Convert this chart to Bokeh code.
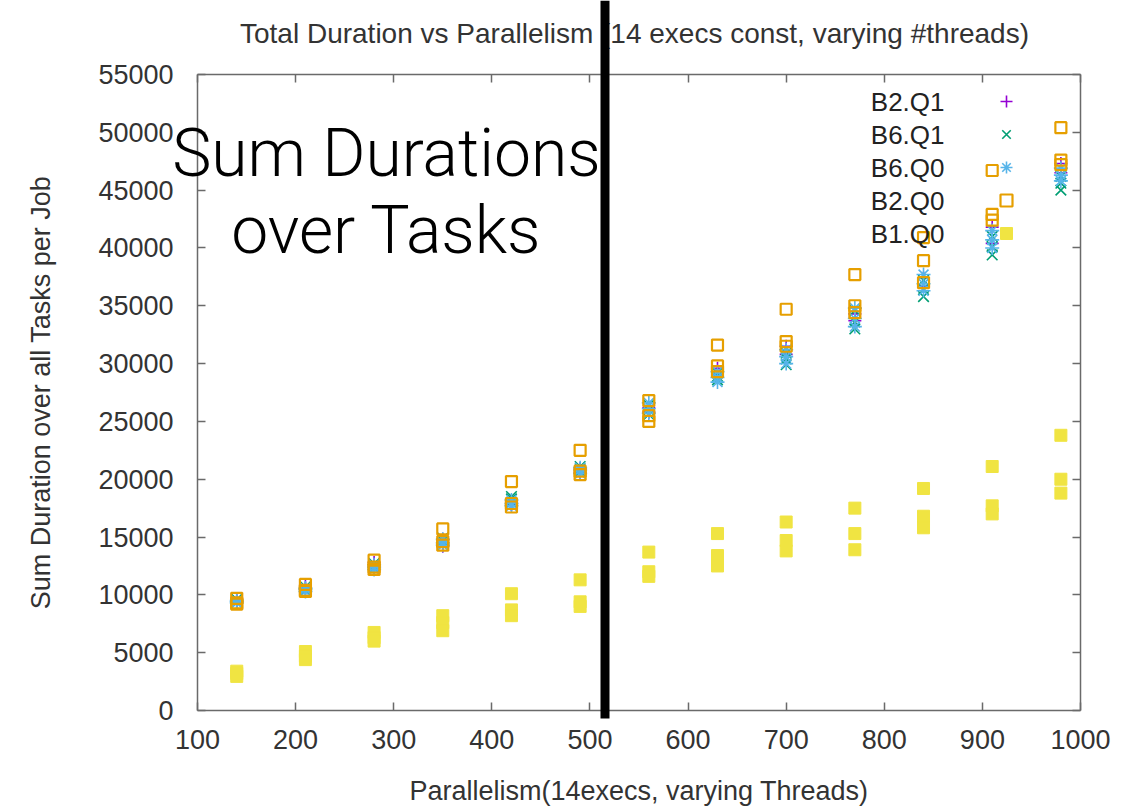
from bokeh.plotting import figure
from bokeh.models import (LinearAxis, FixedTicker, Range1d, Label, BoxAnnotation,
                          Legend, LegendItem, CustomLabelingPolicy)
from bokeh.embed import file_html
from bokeh.resources import INLINE

# ---------------- data ----------------
parallelism = [140, 210, 280, 350, 420, 490, 560, 630, 700, 770, 840, 910, 980]

b2_q1 = [[9600, 9400], [10800, 10500], [12800, 12400], [14800, 14200],
         [18100, 17800], [20900, 20600], [26200, 25800], [29600, 29100],
         [31500, 30800], [34300, 33700], [37400, 36700], [41800, 40400],
         [47300, 46500]]
b6_q1 = [[9600, 9500, 9400], [10700, 10500, 10400], [12700, 12500, 12300],
         [14900, 14700, 14500], [18500, 18300, 18000], [21100, 20900, 20700],
         [26400, 26000, 25600], [29200, 28900, 28600], [30900, 30400, 29900],
         [34600, 33600, 33000], [37200, 36400, 35800], [41000, 40100, 39400],
         [46200, 45600, 45000]]
b6_q0 = [[9500, 9400, 9300], [10600, 10500, 10300], [12600, 12400, 12200],
         [14800, 14500, 14300], [18200, 17900, 17700], [21000, 20800, 20500],
         [26600, 26100, 25700], [29300, 28800, 28400], [31200, 30600, 30000],
         [34800, 33900, 33200], [37700, 36900, 36300], [41500, 40700, 40000],
         [46900, 46300, 45800]]
b2_q0 = [[9700, 9300, 9200], [10900, 10400, 10300], [13000, 12400, 12200],
         [15700, 14600, 14300], [19800, 17900, 17600], [22500, 20700, 20400],
         [26800, 25500, 25000], [31600, 29800, 29300], [34700, 31900, 31500],
         [37700, 35000, 34400], [40900, 38900, 37000], [46700, 42900, 42400],
         [50400, 47600, 47200]]
b1_q0 = [[3400, 3200, 2950], [5100, 4700, 4400], [6750, 6300, 6000],
         [8200, 7600, 6900], [10100, 8700, 8200], [11300, 9400, 9000],
         [13700, 12000, 11600], [15300, 13400, 12500], [16300, 14700, 13800],
         [17500, 15300, 13900], [19200, 16800, 15800], [21100, 17700, 17000],
         [23800, 20000, 18800]]

series_names = ["B2.Q1", "B6.Q1", "B6.Q0", "B2.Q0", "B1.Q0"]
series_values = [b2_q1, b6_q1, b6_q0, b2_q0, b1_q0]

x_ticks = [100, 200, 300, 400, 500, 600, 700, 800, 900, 1000]
y_ticks = [0, 5000, 10000, 15000, 20000, 25000, 30000, 35000, 40000, 45000, 50000, 55000]
x_min, x_max = 100, 1000
y_min, y_max = 0, 55000

title_text = "Total Duration vs Parallelism (14 execs const, varying #threads)"
x_label = "Parallelism(14execs, varying Threads)"
y_label = "Sum Duration over all Tasks per Job"
overlay_lines = ["Sum Durations", "over Tasks"]

# ---------------- layout / styles ----------------
W, H = 1129, 808
# pixel box of the plotting area inside the canvas
LEFT, RIGHT, TOP, BOTTOM = 197, 1080, 74, 710
FONT = "Liberation Sans"
TXT = "#333333"
AX = "#6a6a6a"

# the frame covers the whole canvas; ranges are extended so that the data box
# lands on the pixel box above (lets the slide overlays extend past the axes)
sx = (RIGHT - LEFT) / (x_max - x_min)
sy = (BOTTOM - TOP) / (y_max - y_min)
x_range = Range1d(x_min - LEFT / sx, x_max + (W - RIGHT) / sx)
y_range = Range1d(y_min - (H - BOTTOM) / sy, y_max + TOP / sy)

styles = [
    dict(marker="cross", line_color="#9400D3", fill_color=None, size=13, line_width=1.6),
    dict(marker="x", line_color="#009E73", fill_color=None, size=15, line_width=1.6),
    dict(marker="asterisk", line_color="#56B4E9", fill_color=None, size=14, line_width=1.6),
    dict(marker="square", line_color="#E69F00", fill_color=None, size=11, line_width=2.2),
    dict(marker="square", line_color="#F0E442", fill_color="#F0E442", size=12, line_width=1),
]

p = figure(width=W, height=H, output_backend="svg", toolbar_location=None,
           x_range=x_range, y_range=y_range,
           x_axis_location=None, y_axis_location=None,
           min_border=0)
p.outline_line_color = None
p.grid.visible = False
p.background_fill_color = "white"
p.border_fill_color = "white"

no_labels = CustomLabelingPolicy(code="return new Set()")

bottom_axis = LinearAxis(fixed_location=y_min, bounds=(x_min, x_max), axis_label=x_label)
top_axis = LinearAxis(fixed_location=y_max, bounds=(x_min, x_max), major_label_policy=no_labels)
left_axis = LinearAxis(fixed_location=x_min, bounds=(y_min, y_max), axis_label=y_label)
right_axis = LinearAxis(fixed_location=x_max, bounds=(y_min, y_max), major_label_policy=no_labels)
p.add_layout(bottom_axis, "below")
p.add_layout(top_axis, "above")
p.add_layout(left_axis, "left")
p.add_layout(right_axis, "right")

for ax, ticks in [(bottom_axis, x_ticks), (top_axis, x_ticks),
                  (left_axis, y_ticks), (right_axis, y_ticks)]:
    ax.ticker = FixedTicker(ticks=ticks)
    ax.axis_line_color = AX
    ax.axis_line_width = 1.5
    ax.major_tick_line_color = AX
    ax.major_tick_line_width = 1.5
    ax.major_tick_in = 8
    ax.major_tick_out = 0
    ax.minor_tick_line_color = None
    ax.major_label_text_font = FONT
    ax.major_label_text_color = TXT
    ax.major_label_text_font_size = "27px"
    ax.axis_label_text_font = FONT
    ax.axis_label_text_color = TXT
    ax.axis_label_text_font_size = "27px"
    ax.axis_label_text_font_style = "normal"

bottom_axis.major_label_standoff = 19
bottom_axis.axis_label_standoff = 24
left_axis.major_label_standoff = 24
left_axis.axis_label_standoff = 39

renderers = []
for name, vals, st in zip(series_names, series_values, styles):
    xs, ys = [], []
    for xv, group in zip(parallelism, vals):
        for yv in group:
            xs.append(xv)
            ys.append(yv)
    r = p.scatter(xs, ys, **st)
    renderers.append(r)

# key: labels to the left, samples to the right (gnuplot style)
ROW = 33
GLYPH = 30
key_sample_x = 1006
key_top_y = 101
key_height = GLYPH * len(series_names) + (ROW - GLYPH) * (len(series_names) - 1)
legend = Legend(items=[LegendItem(label=" ", renderers=[r]) for r in renderers],
                location=(key_sample_x - GLYPH // 2, H - (key_top_y - GLYPH // 2) - key_height),
                glyph_width=GLYPH, glyph_height=GLYPH, label_height=GLYPH,
                spacing=ROW - GLYPH, padding=0, margin=0, label_standoff=0,
                label_text_font_size="1px", border_line_color=None,
                background_fill_alpha=0)
p.add_layout(legend, "center")

for i, name in enumerate(series_names):
    p.add_layout(Label(x=944, y=H - (key_top_y + i * ROW), x_units="screen",
                       y_units="screen", text=name, text_align="right",
                       text_baseline="middle", text_font=FONT, text_font_size="26px",
                       text_color="#222222"))

# title
p.add_layout(Label(x=634, y=H - 33, x_units="screen", y_units="screen",
                   text=title_text, text_align="center", text_baseline="alphabetic",
                   text_font=FONT, text_font_size="28px", text_color=TXT))

# slide overlay text
for i, line in enumerate(overlay_lines):
    p.add_layout(Label(x=386, y=H - (153 + 77 * i), x_units="screen",
                       y_units="screen", text=line, text_align="center",
                       text_baseline="alphabetic", text_font="Roboto Light",
                       text_font_size="66px", text_color="black"))

# slide overlay vertical bar
p.add_layout(BoxAnnotation(left=600, right=609, top=H, bottom=H - 718,
                           left_units="screen", right_units="screen",
                           top_units="screen", bottom_units="screen",
                           fill_color="black", fill_alpha=1, line_color=None))

open("out.html", "w").write(file_html(p, INLINE))
